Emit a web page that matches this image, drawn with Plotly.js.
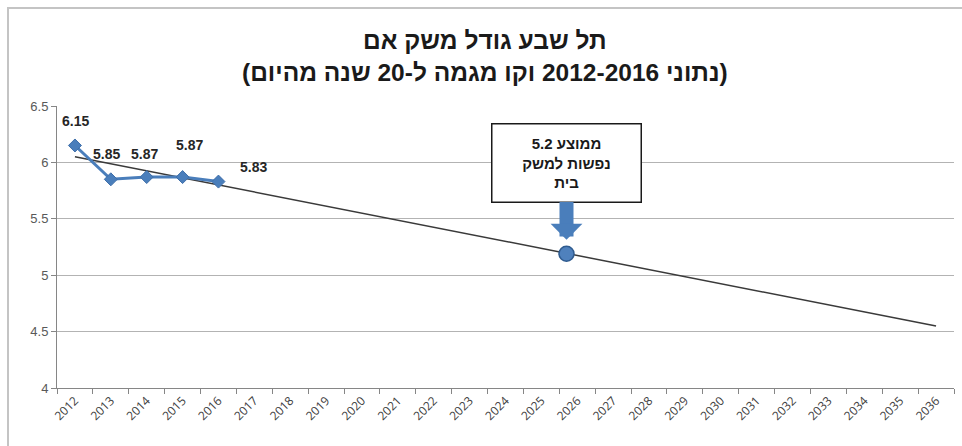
<!DOCTYPE html>
<html>
<head>
<meta charset="utf-8">
<script src="https://cdn.plot.ly/plotly-3.0.1.min.js"></script>
<style>
  html, body { margin: 0; padding: 0; background: #fff; overflow: hidden; }
  #chart { position: absolute; left: 0; top: 0; width: 962px; height: 446px; }
  #frame { position: absolute; left: 7px; top: 7px; width: 1000px; height: 1000px;
           border-left: 2px solid #c4c4c4; border-top: 2px solid #c4c4c4; pointer-events: none; }
</style>
</head>
<body>
<div id="chart"></div>
<div id="frame"></div>
<script>
// ---- data ----
const titleLines = ['תל שבע גודל משק אם', '(נתוני 2012-2016 וקו מגמה ל-20 שנה מהיום)'];
const years = [2012, 2013, 2014, 2015, 2016, 2017, 2018, 2019, 2020, 2021, 2022, 2023, 2024,
               2025, 2026, 2027, 2028, 2029, 2030, 2031, 2032, 2033, 2034, 2035, 2036];
const yearLabels = ['2012','2013','2014','2015','2016','2017','2018','2019','2020','2021','2022','2023','2024',
                    '2025','2026','2027','2028','2029','2030','2031','2032','2033','2034','2035','2036'];
const dataYears = [2012, 2013, 2014, 2015, 2016];
const household = [6.15, 5.85, 5.87, 5.87, 5.83];
const householdLabels = ['6.15', '5.85', '5.87', '5.87', '5.83'];
const trendYears = [2012, 2036];
const trendValues = [6.05, 4.55];
const forecastYear = [2025.7];
const forecastValue = [5.19];
const calloutLines = ['ממוצע 5.2', 'נפשות למשק', 'בית'];

// ---- label offsets (styling only) ----
const labelShiftX = [1, -4, -2, 7, 35];
const labelShiftY = [24, 25, 23, 32, 15];

const rtl = s => '\u202B' + s + '\u202C';
const boundaries = years.map(y => y - 0.5).concat([years[years.length - 1] + 0.5]);

const traces = [
  {
    x: trendYears, y: trendValues, type: 'scatter', mode: 'lines',
    line: { color: '#3a3a3a', width: 1.5 }, hoverinfo: 'skip', showlegend: false
  },
  {
    x: dataYears, y: household, type: 'scatter', mode: 'lines+markers',
    line: { color: '#4A7EBB', width: 3 },
    marker: { symbol: 'diamond', size: 10, color: '#4A7EBB', line: { color: '#3F6FAA', width: 1 } },
    showlegend: false
  },
  {
    x: forecastYear, y: forecastValue, type: 'scatter', mode: 'markers',
    marker: { symbol: 'circle', size: 15, color: '#4F81BD', line: { color: '#2F5B8F', width: 1.5 } },
    showlegend: false
  }
];

// data labels
const annotations = household.map((v, i) => ({
  x: dataYears[i], y: v, xref: 'x', yref: 'y',
  text: '<b>' + householdLabels[i] + '</b>', showarrow: false,
  xshift: labelShiftX[i], yshift: labelShiftY[i],
  font: { family: 'Liberation Sans', size: 14, color: '#262626' }
}));

// callout box with arrow
annotations.push({
  x: forecastYear[0], y: forecastValue[0], xref: 'x', yref: 'y',
  text: calloutLines.map(s => '<b>' + rtl(s) + '</b>').join('<br>'),
  showarrow: true, ax: 0, ay: -91,
  arrowhead: 1, arrowsize: 0.38, arrowwidth: 14, arrowcolor: '#4A7EBB', standoff: 14,
  bgcolor: '#ffffff', bordercolor: '#1a1a1a', borderwidth: 1.5, borderpad: 3,
  width: 142, height: 71,
  font: { family: 'Liberation Sans', size: 15, color: '#1a1a1a' }
});

const layout = {
  width: 962, height: 446,
  margin: { l: 57, r: 8, t: 106, b: 58, autoexpand: false },
  paper_bgcolor: '#ffffff', plot_bgcolor: '#ffffff',
  title: {
    text: titleLines.map(s => '<b>' + rtl(s) + '</b>').join('<br>'),
    x: 0.504, xref: 'container', xanchor: 'center',
    y: 0.89, yref: 'container', yanchor: 'bottom',
    font: { family: 'Liberation Sans Narrow, Liberation Sans', size: 24.5, color: '#1a1a1a' }
  },
  xaxis: {
    range: [years[0] - 0.5, years[years.length - 1] + 0.5],
    tickmode: 'array', tickvals: years, ticktext: yearLabels,
    tickangle: -45, ticks: '',
    tickfont: { size: 12, color: '#404040' },
    minor: { tickmode: 'array', tickvals: boundaries, ticks: 'outside', ticklen: 5, tickcolor: '#868686', showgrid: false },
    showline: true, linecolor: '#868686', linewidth: 1,
    showgrid: false, zeroline: false
  },
  yaxis: {
    range: [4, 6.5], dtick: 0.5, tick0: 4,
    ticks: 'outside', ticklen: 5, tickcolor: '#868686',
    showline: true, linecolor: '#868686', linewidth: 1,
    showgrid: true, gridcolor: '#b3b3b3', gridwidth: 1, zeroline: false,
    tickfont: { family: 'Liberation Sans', size: 13, color: '#595959' }
  },
  annotations: annotations,
  showlegend: false
};

Plotly.newPlot('chart', traces, layout, { displayModeBar: false });
</script>
</body>
</html>
